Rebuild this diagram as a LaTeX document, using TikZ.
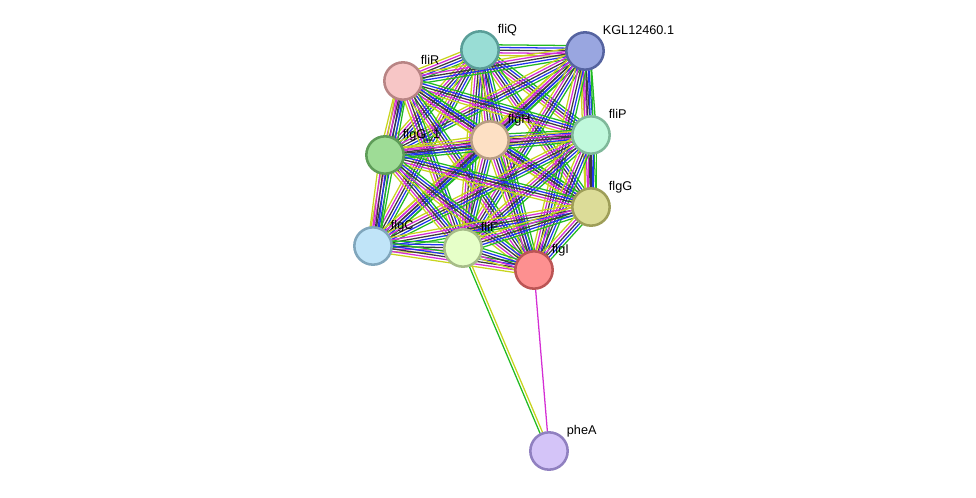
\documentclass[tikz,border=0pt]{standalone}
\usepackage{fontspec}
\setmainfont{Liberation Sans}
\usepackage{tikz}
\usepackage{xcolor}
\usetikzlibrary{calc,backgrounds}

\definecolor{lnkgreen}{HTML}{22BB22}
\definecolor{lnkyellow}{HTML}{C8D41E}
\definecolor{lnkmagenta}{HTML}{D42ED4}
\definecolor{lnkblue}{HTML}{2233EE}
\definecolor{lnkdark}{HTML}{3C3C3C}

% one bundle of evidence lines between two proteins
\newcommand{\strlink}[2]{%
  \foreach \col/\off in {lnkyellow/-4,lnkmagenta/-2,lnkdark/0,lnkblue/2,lnkgreen/4}{%
    \draw[link, draw=\col] ($(#1)!\off pt!90:(#2)$) -- ($(#2)!\off pt!-90:(#1)$);}}

\begin{document}
\begin{tikzpicture}[
      x=0.75pt, y=-0.75pt,
      prot/.style={circle, draw, line width=1.9pt, minimum size=28pt, inner sep=0pt},
      lbl/.style={font=\fontsize{9.5}{11}\selectfont, anchor=base west, inner sep=0.5pt},
      link/.style={line width=0.95pt}
    ]
    \useasboundingbox (0,0) rectangle (976,497);

    \node[prot, fill={rgb,255:red,153;green,221;blue,213}, draw={rgb,255:red,90;green,158;blue,152}] (fliQ) at (480,50) {};
    \node[prot, fill={rgb,255:red,153;green,166;blue,224}, draw={rgb,255:red,85;green,99;blue,160}] (KGL) at (585,51) {};
    \node[prot, fill={rgb,255:red,247;green,198;blue,198}, draw={rgb,255:red,184;green,132;blue,132}] (fliR) at (403,81) {};
    \node[prot, fill={rgb,255:red,253;green,224;blue,196}, draw={rgb,255:red,184;green,158;blue,132}] (flgH) at (490,140) {};
    \node[prot, fill={rgb,255:red,192;green,248;blue,220}, draw={rgb,255:red,127;green,184;blue,154}] (fliP) at (591,135) {};
    \node[prot, fill={rgb,255:red,158;green,220;blue,150}, draw={rgb,255:red,94;green,156;blue,88}] (flgGone) at (385,155) {};
    \node[prot, fill={rgb,255:red,220;green,220;blue,152}, draw={rgb,255:red,158;green,158;blue,88}] (flgG) at (591,207) {};
    \node[prot, fill={rgb,255:red,192;green,228;blue,248}, draw={rgb,255:red,128;green,166;blue,188}] (flgC) at (373,246) {};
    \node[prot, fill={rgb,255:red,230;green,255;blue,200}, draw={rgb,255:red,166;green,188;blue,136}] (fliF) at (463,248) {};
    \node[prot, fill={rgb,255:red,253;green,144;blue,144}, draw={rgb,255:red,188;green,85;blue,85}] (flgI) at (534,270) {};
    \node[prot, fill={rgb,255:red,212;green,196;blue,248}, draw={rgb,255:red,144;green,128;blue,192}] (pheA) at (549,451) {};

    \node[lbl] (fliQ-t) at ([shift={(17,-17)}]fliQ.center) {fliQ};
    \node[lbl] (KGL-t) at ([shift={(17,-17)}]KGL.center) {KGL12460.1};
    \node[lbl] (fliR-t) at ([shift={(17,-17)}]fliR.center) {fliR};
    \node[lbl] (flgH-t) at ([shift={(17,-17)}]flgH.center) {flgH};
    \node[lbl] (fliP-t) at ([shift={(17,-17)}]fliP.center) {fliP};
    \node[lbl] (flgGone-t) at ([shift={(17,-17)}]flgGone.center) {flgG\_1};
    \node[lbl] (flgG-t) at ([shift={(17,-17)}]flgG.center) {flgG};
    \node[lbl] (flgC-t) at ([shift={(17,-17)}]flgC.center) {flgC};
    \node[lbl] (fliF-t) at ([shift={(17,-17)}]fliF.center) {fliF};
    \node[lbl] (flgI-t) at ([shift={(17,-17)}]flgI.center) {flgI};
    \node[lbl] (pheA-t) at ([shift={(17,-17)}]pheA.center) {pheA};

    \begin{scope}[on background layer]
      \foreach \a [count=\i] in {fliQ,KGL,fliR,flgH,fliP,flgGone,flgG,flgC,fliF,flgI}{
        \foreach \b [count=\j] in {fliQ,KGL,fliR,flgH,fliP,flgGone,flgG,flgC,fliF,flgI}{
          \ifnum\j>\i \strlink{\a}{\b}\fi}}
      \draw[link, draw=lnkgreen] ($(fliF)!-1pt!90:(pheA)$) -- ($(pheA)!-1pt!-90:(fliF)$);
      \draw[link, draw=lnkyellow] ($(fliF)!1pt!90:(pheA)$) -- ($(pheA)!1pt!-90:(fliF)$);
      \draw[link, draw=lnkmagenta] (flgI) -- (pheA);
    \end{scope}
  \end{tikzpicture}
\end{document}
